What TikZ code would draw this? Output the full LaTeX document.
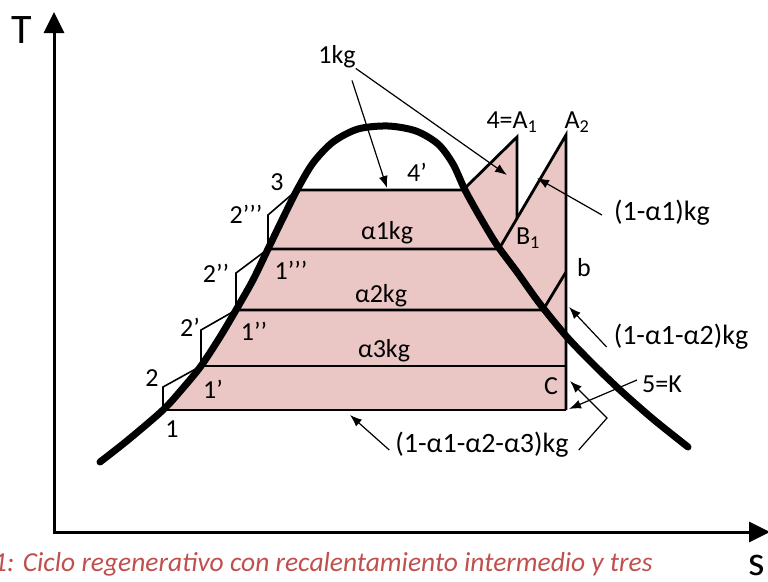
\documentclass[tikz,border=0pt]{standalone}
\usepackage{fontspec}
\setmainfont{Carlito}
\usepackage{xcolor}
\usepackage{tikz}
\usetikzlibrary{arrows.meta,calc}
\definecolor{cyclepink}{RGB}{234,198,196}
\definecolor{captionred}{RGB}{192,80,77}

\begin{document}
\begin{tikzpicture}[x=1pt, y=-1pt,
    lbl/.style={font=\fontsize{26}{30}\selectfont, inner sep=0pt},
    biglbl/.style={font=\fontsize{28}{32}\selectfont, inner sep=0pt},
    axislbl/.style={font=\fontsize{42}{46}\selectfont, inner sep=0pt, 
        anchor=base},
    caption/.style={font=\fontsize{27.5}{31}\selectfont\itshape, 
        text=captionred, inner sep=0pt, anchor=base west},
    axis/.style={line width=3pt, 
        {Triangle[length=21pt, width=20pt]}-{Triangle[length=21pt, width=20pt]}},
    dome/.style={line width=7pt, line cap=round, line join=round},
    cyc/.style={line width=2.8pt},
    stair/.style={line width=1.6pt},
    arr/.style={line width=1.2pt, -{Latex[length=12pt, width=9pt]}},
]
\useasboundingbox (0,0) rectangle (768,581);
\clip (0,0) rectangle (768,581);

% ── Cycle points ──
\coordinate (p1)   at (163,410);
\coordinate (p1a)  at (201,366);
\coordinate (p1b)  at (236,310);
\coordinate (p1c)  at (268,249);
\coordinate (p3)   at (297,190);
\coordinate (p4)   at (463,190);
\coordinate (pA1)  at (517,137);
\coordinate (pA2)  at (566,135);
\coordinate (pB1)  at (499,249);
\coordinate (pa2r) at (543,310);
\coordinate (pb)   at (566,272);
\coordinate (pa3r) at (566,366);
\coordinate (pC)   at (566,410);
\coordinate (pA1d) at (517,300);
\coordinate (pA1x) at (intersection of pA1--pA1d and pB1--pA2);

% ── Staircase corners (2, 2', 2'', 2''') ──
\coordinate (c2)  at (163,387);
\coordinate (c2a) at (201,330);
\coordinate (c2b) at (236,273);
\coordinate (c2c) at (268,215);

% ── Pink area ──
\fill[cyclepink] plot[smooth] coordinates {(p1) (183,388) (p1a) (220,337) 
        (p1b) (253,280) (p1c) (283,218) (p3)} 
    -- (p4) -- (pA1) -- (pA1x) -- (pA2) -- (pC) -- cycle;

% ── Cycle lines ──
\draw[stair] (p1) -- (c2) -- (p1a) -- (c2a) -- (p1b) -- (c2b) 
    -- (p1c) -- (c2c) -- (p3);
\draw[cyc] (p1) -- (pC);
\draw[cyc] (p1a) -- (pa3r);
\draw[cyc] (p1b) -- (pa2r) -- (pb);
\draw[cyc] (p1c) -- (pB1) -- (pA2) -- (pC);
\draw[cyc] (p3) -- (p4) -- (pA1) -- (pA1x);

% ── Saturation dome ──
\draw[dome] plot[smooth] coordinates {(100,462) (128,440) (p1) (183,388) 
    (p1a) (220,337) (p1b) (253,280) (p1c) (283,218) (p3) (313,163) 
    (333,142) (358,129) (388,126) (416,131) (438,144) (453,164) 
    (465,190) (480,217) (497,245) (517,272) (540,304) (567,337) 
    (593,364) (620,390) (653,419) (688,447)};

% ── Axes ──
\coordinate (origin) at (54,532);
\coordinate (ttip) at (54,12);
\coordinate (stip) at (770,532);
\draw[axis] (ttip) -- (origin) -- (stip);
\node[axislbl] (tlbl) at (22,43) {T};
\node[axislbl] (slbl) at (757,575) {s};

% ── State labels ──
\node[lbl] (l4p)  at (417,172) {4’};
\node[lbl] (l3)   at (277,182) {3};
\node[lbl] (l2c)  at (246,214) {2’’’};
\node[lbl] (l2b)  at (216,273) {2’’};
\node[lbl] (l1c)  at (291,270) {1’’’};
\node[lbl] (l2a)  at (190,327) {2’};
\node[lbl] (l1b)  at (254,331) {1’’};
\node[lbl] (l2)   at (152,378) {2};
\node[lbl] (l1a)  at (213,389) {1’};
\node[lbl] (l1)   at (172,429) {1};
\node[lbl] (lA1)  at (512,122) {4=A\textsubscript{1}};
\node[lbl] (lA2)  at (577,122) {A\textsubscript{2}};
\node[lbl] (lB1)  at (528,238) {B\textsubscript{1}};
\node[lbl] (lb)   at (584,268) {b};
\node[lbl] (lC)   at (551,386) {C};
\node[lbl] (lK)   at (662,384) {5=K};

% ── Mass labels ──
\node[lbl] (kg1)  at (337,57)  {1kg};
\node[lbl] (kga1) at (387,233) {α1kg};
\node[lbl] (kga2) at (381,296) {α2kg};
\node[lbl] (kga3) at (384,351) {α3kg};
\node[biglbl] (kgA) at (662,213) {(1-α1)kg};
\node[biglbl] (kgB) at (681,337) {(1-α1-α2)kg};
\node[biglbl] (kgD) at (482,445) {(1-α1-α2-α3)kg};

% ── Arrows ──
\coordinate (tip1)  at (387,188);
\coordinate (tip2)  at (507,175);
\coordinate (tipA)  at (537,178);
\coordinate (tipB)  at (569,307);
\coordinate (tipK)  at (569,409);
\coordinate (tipD)  at (350,415);
\coordinate (tipC)  at (570,381);
\coordinate (kneeD) at (607,418);
\draw[arr] ([xshift=15pt, yshift=-12pt]kg1.south) -- (tip1);
\draw[arr] (kg1.south east) -- (tip2);
\draw[arr] ([xshift=-12pt, yshift=-2pt]kgA.west) -- (tipA);
\draw[arr] ([xshift=-7pt, yshift=-10pt]kgB.west) -- (tipB);
\draw[arr] ([xshift=-5pt, yshift=4pt]lK.west) -- (tipK);
\draw[arr] ([xshift=-6pt, yshift=-5pt]kgD.west) -- (tipD);
\draw[arr] ([xshift=10pt, yshift=-5pt]kgD.east) -- (kneeD) -- (tipC);

% ── Caption ──
\node[caption] (capt) at (-7,571) 
    {1: Ciclo regenerativo con recalentamiento intermedio y tres};

\end{tikzpicture}
\end{document}
